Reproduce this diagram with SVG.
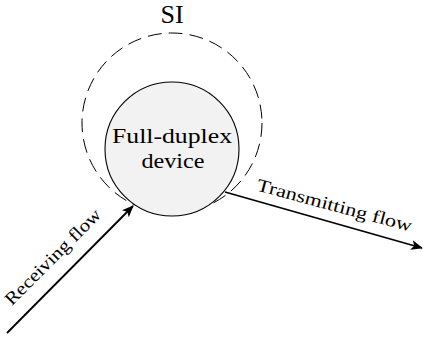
<svg xmlns="http://www.w3.org/2000/svg" width="423" height="341" viewBox="0 0 423 341">
<defs>
<style>
.t{fill:#000}
.flow{stroke:#000;stroke-width:1.8;fill:none}
</style>
<marker id="ah" viewBox="0 0 12 10" refX="11" refY="5" markerWidth="12" markerHeight="10" markerUnits="userSpaceOnUse" orient="auto">
<path d="M0,0 L12,5 L0,10 L3,5 Z" fill="#000"/>
</marker>
</defs>
<rect width="423" height="341" fill="#fff"/>
<g id="si" font-family="'Liberation Serif', 'Times New Roman', serif">
<circle cx="172" cy="123" r="90" fill="none" stroke="#000" stroke-width="1" stroke-dasharray="14,7"/>
<text class="t" x="172" y="23" font-size="26" text-anchor="middle">SI</text>
</g>
<g id="device" font-family="'Liberation Serif', 'Times New Roman', serif">
<circle cx="172" cy="149" r="67" fill="#f2f2f2" stroke="#000" stroke-width="1.1"/>
<text class="t" x="172" y="143" font-size="21" text-anchor="middle" textLength="120" lengthAdjust="spacingAndGlyphs">Full-duplex</text>
<text class="t" x="173" y="168" font-size="21" text-anchor="middle" textLength="63" lengthAdjust="spacingAndGlyphs">device</text>
</g>
<g id="connectors">
<line class="flow" x1="7" y1="333" x2="133" y2="206" marker-end="url(#ah)"/>
<line class="flow" x1="225" y1="192" x2="422" y2="248" marker-end="url(#ah)"/>
</g>
<g id="labels" font-family="'Liberation Serif', 'Times New Roman', serif">
<text class="t" x="57" y="261" font-size="18" text-anchor="middle" textLength="128" lengthAdjust="spacingAndGlyphs" transform="rotate(-45 57 261)">Receiving flow</text>
<text class="t" x="333" y="211" font-size="18" text-anchor="middle" textLength="160" lengthAdjust="spacingAndGlyphs" transform="rotate(15 333 211)">Transmitting flow</text>
</g>
</svg>
